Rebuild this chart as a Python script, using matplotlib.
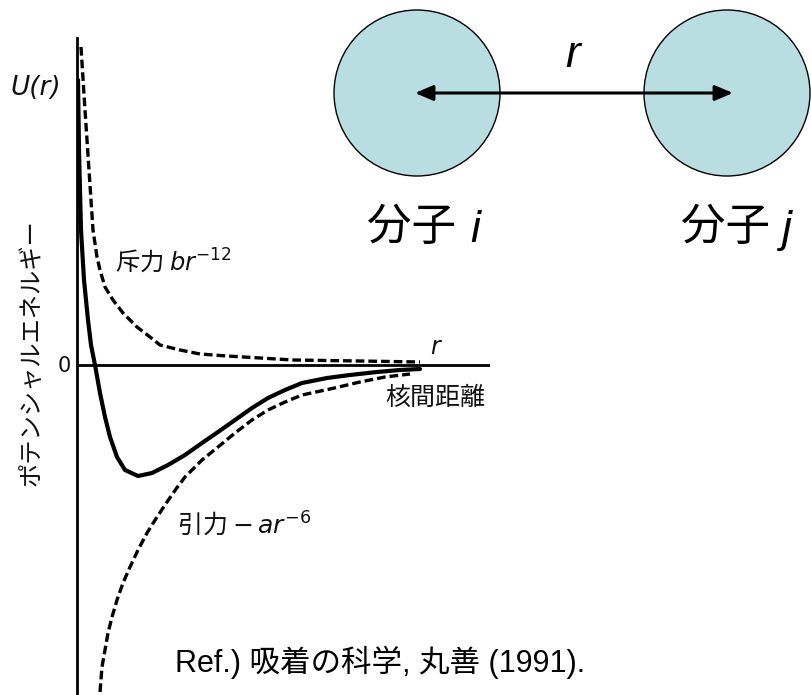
import matplotlib
matplotlib.use("Agg")
import matplotlib.pyplot as plt
from matplotlib.patches import Circle, FancyArrowPatch

# ---- data (arbitrary units) ----
# total Lennard-Jones potential U(r) (solid)
r_total = [0.01, 0.02, 0.04, 0.07, 0.11, 0.14, 0.18, 0.23, 0.28, 0.33, 0.40,
           0.48, 0.61, 0.75, 0.91, 1.08, 1.25, 1.41, 1.58, 1.75, 1.91,
           2.08, 2.25, 2.50, 2.73, 3.00, 3.23, 3.43]
U_total = [2.85, 2.15, 1.35, 0.85, 0.45, 0.20, 0.00, -0.28, -0.52, -0.72, -0.92,
           -1.05, -1.11, -1.08, -1.00, -0.90, -0.78, -0.67, -0.55, -0.43, -0.33,
           -0.25, -0.18, -0.13, -0.10, -0.07, -0.05, -0.04]
# repulsive term b r^-12 (dashed)
r_rep = [0.04, 0.08, 0.12, 0.16, 0.20, 0.23, 0.28, 0.36, 0.46, 0.60, 0.73,
         0.83, 1.03, 1.23, 1.50, 1.83, 2.16, 2.83, 3.43]
U_rep = [3.18, 2.55, 1.95, 1.35, 1.08, 0.95, 0.78, 0.65, 0.52, 0.38, 0.28,
         0.20, 0.15, 0.11, 0.09, 0.07, 0.05, 0.04, 0.03]
# attractive term -a r^-6 (dashed)
r_att = [0.23, 0.25, 0.28, 0.31, 0.35, 0.40, 0.46, 0.53, 0.61, 0.70, 0.80,
         0.90, 0.99, 1.08, 1.25, 1.41, 1.58, 1.75, 1.91, 2.08, 2.25,
         2.53, 2.83, 3.08, 3.33]
U_att = [-3.27, -3.02, -2.85, -2.68, -2.52, -2.35, -2.18, -2.02, -1.85, -1.68, -1.52,
         -1.37, -1.24, -1.12, -0.95, -0.82, -0.68, -0.55, -0.45, -0.37, -0.30,
         -0.24, -0.17, -0.12, -0.09]

molecule_labels = ["分子", "分子"]
molecule_symbols = ["i", "j"]
ylabel_text = "ポテンシャルエネルギー"
rep_label = "斥力 $br^{-12}$"
att_label = "引力 $-\\,ar^{-6}$"
xlabel_text = "核間距離"
ref_text = "Ref.) 吸着の科学, 丸善 (1991)."

plt.rcParams['mathtext.fontset'] = 'dejavusans'
CJK = ['Noto Sans CJK JP', 'DejaVu Sans']
REF_FONT = ['Liberation Sans', 'Noto Sans CJK JP']

W, H = 812, 695
fig = plt.figure(figsize=(W / 100, H / 100), dpi=100)

# overlay axes in pixel coordinates for the molecule sketch and texts
ov = fig.add_axes([0, 0, 1, 1])
ov.set_xlim(0, W)
ov.set_ylim(H, 0)
ov.axis('off')

# main potential axes
ax = fig.add_axes([77 / W, 0, (490 - 77) / W, (H - 38) / H])
ax.patch.set_alpha(0)
ax.set_xlim(0, 4.13)
ax.set_ylim(-3.30, 3.27)
for s in ['top', 'right', 'bottom']:
    ax.spines[s].set_visible(False)
ax.spines['left'].set_linewidth(2.0)
ax.set_xticks([])
ax.set_yticks([])
ax.axhline(0, color='black', lw=2.0)
ax.plot(r_total, U_total, color='black', lw=3.0,
        solid_joinstyle='round', solid_capstyle='round')
ax.plot(r_rep, U_rep, color='black', lw=2.4, linestyle=(0, (2.6, 1.2)))
ax.plot(r_att, U_att, color='black', lw=2.4, linestyle=(0, (2.6, 1.2)))

# texts of the potential figure
ink = '#111111'
ov.text(36, 88, "U(r)", fontsize=19, style='italic', family='DejaVu Sans',
        ha='center', va='center', color=ink)
ov.text(64, 366, "0", fontsize=15, family='DejaVu Sans', ha='center', va='center',
        color=ink)
ov.text(31, 353, ylabel_text, fontsize=17.5, family=CJK, rotation=90,
        ha='center', va='center', color=ink)
ov.text(115, 262, rep_label, fontsize=17.5, family=CJK, ha='left', va='center',
        color=ink)
ov.text(177, 525, att_label, fontsize=18, family=CJK, ha='left', va='center',
        color=ink)
ov.text(435, 347, "r", fontsize=17, style='italic', family='DejaVu Sans',
        ha='center', va='center', color=ink)
ov.text(435, 398, xlabel_text, fontsize=18, family=CJK, ha='center', va='center',
        color=ink)
ov.text(175, 662, ref_text, fontsize=22, family=REF_FONT, ha='left', va='center',
        color='black')

# molecule sketch
mol_x = [417, 727]
mol_y = 93
mol_radius = 83
for x in mol_x:
    ov.add_patch(Circle((x, mol_y), mol_radius, facecolor='#B8DEE2',
                        edgecolor='black', lw=1.0, zorder=2))
arrow = FancyArrowPatch((mol_x[0] - 2, mol_y), (mol_x[1] + 6, mol_y),
                        arrowstyle='<|-|>,head_length=0.4,head_width=0.17',
                        mutation_scale=27, lw=2.2, color='black',
                        shrinkA=0, shrinkB=0, zorder=3)
ov.add_patch(arrow)
ov.text(573, 67, "r", fontsize=32, style='italic', family='Liberation Sans',
        ha='center', va='baseline', color='black')
label_x = [367, 681]
sym_x = [470, 782]
for lx, sx, lab, sym in zip(label_x, sym_x, molecule_labels, molecule_symbols):
    ov.text(lx, 227, lab, fontsize=32, family=CJK, ha='left', va='center',
            color='black')
    ov.text(sx, 242, sym, fontsize=32, style='italic', family='Liberation Sans',
            ha='left', va='baseline', color='black')

fig.savefig("out.png", dpi=100)
